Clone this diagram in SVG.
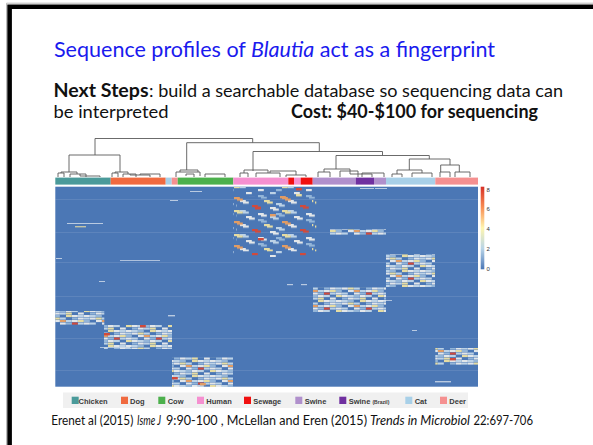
<svg xmlns="http://www.w3.org/2000/svg" width="593" height="445" viewBox="0 0 593 445">
<style>
.w{fill:#f3f3ef}.l{fill:#c9dcec}.m{fill:#9bbcdc}.y{fill:#f6e7a2}.o{fill:#f2a15c}.r{fill:#df4630}
.dg{fill:none;stroke:#5a5a5a;stroke-width:0.9}
.lg{font-family:"Liberation Sans",Arial,sans-serif;font-size:7.5px;font-weight:bold;fill:#3a3a3a}
.cb{font-family:"Liberation Sans",Arial,sans-serif;font-size:6px;fill:#333}
.tx{font-family:Lato,"Liberation Sans",sans-serif;fill:#111}
.blk{opacity:0.9}
</style>
<defs>
<pattern id="pD" width="42" height="15" patternUnits="userSpaceOnUse">
<rect class="w" x="0" y="0" width="5.8" height="2.1"/><rect class="l" x="6" y="0" width="5.8" height="2.1"/><rect class="m" x="12" y="0" width="5.8" height="2.1"/><rect class="y" x="24" y="0" width="5.8" height="2.1"/><rect class="w" x="30" y="0" width="5.8" height="2.1"/><rect class="l" x="36" y="0" width="5.8" height="2.1"/>
<rect class="l" x="0" y="2.5" width="5.8" height="2.1"/><rect class="w" x="6" y="2.5" width="5.8" height="2.1"/><rect class="y" x="12" y="2.5" width="5.8" height="2.1"/><rect class="l" x="18" y="2.5" width="5.8" height="2.1"/><rect class="m" x="30" y="2.5" width="5.8" height="2.1"/><rect class="w" x="36" y="2.5" width="5.8" height="2.1"/>
<rect class="m" x="0" y="5" width="5.8" height="2.1"/><rect class="w" x="12" y="5" width="5.8" height="2.1"/><rect class="o" x="18" y="5" width="5.8" height="2.1"/><rect class="l" x="24" y="5" width="5.8" height="2.1"/><rect class="w" x="30" y="5" width="5.8" height="2.1"/><rect class="y" x="36" y="5" width="5.8" height="2.1"/>
<rect class="w" x="0" y="7.5" width="5.8" height="2.1"/><rect class="l" x="6" y="7.5" width="5.8" height="2.1"/><rect class="w" x="18" y="7.5" width="5.8" height="2.1"/><rect class="m" x="24" y="7.5" width="5.8" height="2.1"/><rect class="r" x="30" y="7.5" width="5.8" height="2.1"/><rect class="l" x="36" y="7.5" width="5.8" height="2.1"/>
<rect class="y" x="0" y="10" width="5.8" height="2.1"/><rect class="w" x="6" y="10" width="5.8" height="2.1"/><rect class="l" x="12" y="10" width="5.8" height="2.1"/><rect class="m" x="18" y="10" width="5.8" height="2.1"/><rect class="w" x="24" y="10" width="5.8" height="2.1"/><rect class="l" x="30" y="10" width="5.8" height="2.1"/>
<rect class="m" x="6" y="12.5" width="5.8" height="2.1"/><rect class="w" x="12" y="12.5" width="5.8" height="2.1"/><rect class="l" x="18" y="12.5" width="5.8" height="2.1"/><rect class="y" x="24" y="12.5" width="5.8" height="2.1"/><rect class="w" x="36" y="12.5" width="5.8" height="2.1"/>
</pattern>
<pattern id="pS" width="48" height="24" patternUnits="userSpaceOnUse">
<rect class="w" x="6" y="0" width="5.8" height="2.2"/><rect class="l" x="30" y="0" width="5.8" height="2.2"/><rect class="m" x="18" y="3" width="5.8" height="2.2"/><rect class="o" x="42" y="5" width="5.8" height="2.2"/><rect class="w" x="0" y="8" width="5.8" height="2.2"/><rect class="y" x="24" y="8" width="5.8" height="2.2"/><rect class="l" x="36" y="11" width="5.8" height="2.2"/><rect class="r" x="12" y="13" width="5.8" height="2.2"/><rect class="w" x="30" y="15" width="5.8" height="2.2"/><rect class="l" x="0" y="18" width="5.8" height="2.2"/><rect class="y" x="42" y="18" width="5.8" height="2.2"/><rect class="w" x="18" y="21" width="5.8" height="2.2"/><rect class="m" x="36" y="21" width="5.8" height="2.2"/>
</pattern>
<linearGradient id="cbar" x1="0" y1="0" x2="0" y2="1">
<stop offset="0" stop-color="#d73027"/><stop offset="0.25" stop-color="#f88d52"/><stop offset="0.5" stop-color="#fff6b0"/><stop offset="0.75" stop-color="#b8d4e8"/><stop offset="1" stop-color="#4a76b6"/>
</linearGradient>
</defs>
<rect width="593" height="445" fill="#fff"/>
<path d="M6.5,445 V3.2 H593" fill="none" stroke="#bbb" stroke-width="1"/>
<path d="M9.6,445 V6.8 H593" fill="none" stroke="#000" stroke-width="4.6"/>

<g id="title">
<text class="tx" x="54" y="57" font-size="21" style="fill:#1a1aee" textLength="441" lengthAdjust="spacingAndGlyphs">Sequence profiles of <tspan font-style="italic">Blautia</tspan> act as a fingerprint</text>
</g>
<g id="next-steps">
<text class="tx" x="53.5" y="97" font-size="18" font-weight="bold" textLength="95" lengthAdjust="spacingAndGlyphs">Next Steps</text>
<text class="tx" x="149" y="97" font-size="18" textLength="414" lengthAdjust="spacingAndGlyphs">: build a searchable database so sequencing data can</text>
<text class="tx" x="53.5" y="118" font-size="18" textLength="115" lengthAdjust="spacingAndGlyphs">be interpreted</text>
<text class="tx" x="291" y="118" font-size="18" font-weight="bold" textLength="247" lengthAdjust="spacingAndGlyphs">Cost: $40-$100 for sequencing</text>
</g>

<g id="dendrogram">
<path class="dg" d="M95,155 V138.5 H252.7 V142.7 M69,172 V155 H120 V172 M186.7,170 V142.7 H319.3 V151.5 M253,171 V151.5 H382.5 V155.5 M336,169 V155.5 H429.3 V159 M409.3,170 V159 H450 V165 M440.7,172 V165 H459.3 V172"/>
<path class="dg" stroke-width="0.6" d="M58,177 V173 H64 V177 M61,173 V172 H77 V174 M70,177 V174 H86 V177 M80,174 V176 H100 V177 M112,177 V173 H118 V177 M115,173 V172 H128 V174 M123,177 V174 H136 V177 M130,174 V175 H150 V177 M140,175 V174 H160 V177 M176,177 V172 H200 V176 M180,172 V170 H198 V172 M186,176 V174 H194 V177 M205,177 V174 H225 V177 M240,177 V173 H248 V177 M244,173 V170 H268 V173 M256,177 V173 H280 V177 M270,173 V171 H296 V175 M286,177 V175 H306 V177 M318,177 V172 H330 V177 M324,172 V169 H350 V171 M340,177 V171 H358 V177 M350,171 V174 H372 V177 M362,177 V173 H384 V177 M392,177 V174 H402 V177 M397,174 V170 H422 V173 M412,177 V173 H432 V177 M440,177 V172 H450 V177 M455,177 V172 H470 V177"/>
</g>

<g id="colorbar-top">
<rect x="55.3" y="177.6" width="55.4" height="7" fill="#4a9a9a"/>
<rect x="110.7" y="177.6" width="55" height="7" fill="#f06a40"/>
<rect x="165.7" y="177.6" width="6" height="7" fill="#a8d0e8"/>
<rect x="171.7" y="177.6" width="6" height="7" fill="#f59090"/>
<rect x="177.7" y="177.6" width="55.6" height="7" fill="#4cb04c"/>
<rect x="233.3" y="177.6" width="55" height="7" fill="#f590d0"/>
<rect x="288.3" y="177.6" width="5.7" height="7" fill="#f01010"/>
<rect x="294" y="177.6" width="6.7" height="7" fill="#f590d0"/>
<rect x="300.7" y="177.6" width="12" height="7" fill="#f01010"/>
<rect x="312.7" y="177.6" width="43" height="7" fill="#b090cc"/>
<rect x="355.7" y="177.6" width="18.3" height="7" fill="#7030a0"/>
<rect x="374" y="177.6" width="12" height="7" fill="#b090cc"/>
<rect x="386" y="177.6" width="49.3" height="7" fill="#a8d0e8"/>
<rect x="435.3" y="177.6" width="42.7" height="7" fill="#f59090"/>
</g>

<g id="heatmap">
<rect x="55.3" y="186.7" width="422.7" height="200" fill="#4b77b5"/>
<g fill="#fff" opacity="0.12">
<rect x="55.3" y="199" width="422.7" height="0.8"/><rect x="55.3" y="232" width="422.7" height="0.8"/><rect x="55.3" y="262" width="422.7" height="0.8"/><rect x="55.3" y="296" width="422.7" height="0.8"/><rect x="55.3" y="338" width="422.7" height="0.8"/><rect x="55.3" y="370" width="422.7" height="0.8"/>
</g>
<g class="blk">
<rect x="233.3" y="187" width="80" height="70" fill="url(#pS)"/>
<rect x="233.3" y="195" width="80" height="55" fill="url(#pS)" transform="translate(3,1.5)"/>
<rect class="r" x="255" y="207" width="5.8" height="2.4"/><rect class="r" x="258" y="238" width="5.8" height="2.4"/><rect class="o" x="280" y="196" width="5.8" height="2.4"/><rect class="r" x="296" y="188" width="5.8" height="2.4"/><rect class="y" x="296" y="194" width="5.8" height="2.4"/><rect class="o" x="270" y="214" width="5.8" height="2.4"/>
<rect x="330" y="229" width="56" height="6" fill="url(#pD)"/>
<rect x="386" y="254" width="49" height="33" fill="url(#pD)"/>
<rect x="313" y="287" width="73" height="25" fill="url(#pD)"/>
<rect x="55.3" y="311" width="49" height="14" fill="url(#pD)"/>
<rect x="104" y="325" width="68" height="24" fill="url(#pD)"/>
<rect x="172" y="357" width="61" height="30" fill="url(#pD)"/>
<rect x="435.3" y="348" width="42.7" height="17" fill="url(#pD)"/>
<rect class="r" x="104" y="333" width="5.8" height="2.4"/><rect class="r" x="140" y="325" width="5.8" height="2.4"/><rect class="r" x="172" y="377" width="5.8" height="2.4"/><rect class="o" x="200" y="383" width="5.8" height="2.4"/><rect class="r" x="450" y="358" width="5.8" height="2.4"/>
</g>
<g fill="#e8eef4" opacity="0.7">
<rect x="67" y="223" width="36" height="1"/><rect class="y" x="75" y="226" width="11" height="1.4"/><rect x="190" y="191" width="12" height="1"/><rect x="170" y="200" width="8" height="1"/><rect x="360" y="188" width="14" height="1"/><rect x="375" y="188" width="12" height="1"/><rect x="120" y="260" width="40" height="0.9"/><rect x="56" y="258" width="6" height="1"/><rect x="99" y="281" width="6" height="1"/><rect x="287" y="284" width="6" height="1.2"/><rect x="301" y="284" width="6" height="1.2"/><rect x="412" y="330" width="5" height="1"/><rect x="435" y="381" width="16" height="1.4"/><rect x="168" y="315" width="7" height="1.4"/><rect x="380" y="300" width="12" height="0.9"/><rect x="100" y="347" width="30" height="0.9"/>
</g>
</g>

<g id="scale">
<rect x="480.7" y="186.7" width="3.6" height="82.6" fill="url(#cbar)"/>
<text class="cb" x="486.5" y="191.5">8</text>
<text class="cb" x="486.5" y="211">6</text>
<text class="cb" x="486.5" y="231">4</text>
<text class="cb" x="486.5" y="251">2</text>
<text class="cb" x="486.5" y="271">0</text>
</g>

<g id="legend">
<rect x="63" y="392.5" width="405" height="15.5" fill="#f0f0f0"/>
<rect x="71.7" y="396.7" width="7" height="7.3" fill="#4a9a9a"/><text class="lg" x="78.5" y="403.5">Chicken</text>
<rect x="121" y="396.7" width="7" height="7.3" fill="#f06a40"/><text class="lg" x="130" y="403.5">Dog</text>
<rect x="158.3" y="396.7" width="7" height="7.3" fill="#4cb04c"/><text class="lg" x="167.7" y="403.5">Cow</text>
<rect x="197" y="396.7" width="7" height="7.3" fill="#f590d0"/><text class="lg" x="206.3" y="403.5">Human</text>
<rect x="244" y="396.7" width="7" height="7.3" fill="#f01010"/><text class="lg" x="253.3" y="403.5">Sewage</text>
<rect x="295.3" y="396.7" width="7" height="7.3" fill="#b090cc"/><text class="lg" x="304.7" y="403.5">Swine</text>
<rect x="339.3" y="396.7" width="7" height="7.3" fill="#7030a0"/><text class="lg" x="348.7" y="403.5">Swine <tspan font-size="5">(Brazil)</tspan></text>
<rect x="405.3" y="396.7" width="7" height="7.3" fill="#a8d0e8"/><text class="lg" x="414.7" y="403.5">Cat</text>
<rect x="440" y="396.7" width="7" height="7.3" fill="#f59090"/><text class="lg" x="449.3" y="403.5">Deer</text>
</g>

<g id="citation">
<text class="tx" x="51.3" y="425" font-size="12.5" textLength="82" lengthAdjust="spacingAndGlyphs">Erenet al (2015)</text>
<text class="tx" x="137" y="425" font-size="12.5" font-style="italic" textLength="24" lengthAdjust="spacingAndGlyphs">Isme J</text>
<text class="tx" x="166" y="425" font-size="12.5" textLength="201" lengthAdjust="spacingAndGlyphs">9:90-100 , McLellan and Eren (2015)</text>
<text class="tx" x="370" y="425" font-size="12.5" font-style="italic" textLength="100" lengthAdjust="spacingAndGlyphs">Trends in Microbiol</text>
<text class="tx" x="473.5" y="425" font-size="12.5" textLength="59.5" lengthAdjust="spacingAndGlyphs">22:697-706</text>
</g>
</svg>
